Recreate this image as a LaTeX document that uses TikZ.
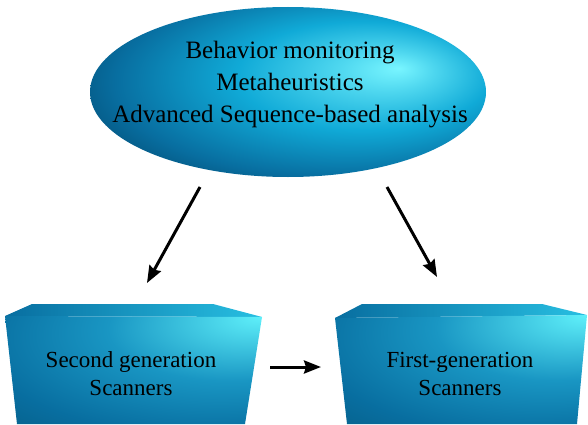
\documentclass[tikz,border=0pt]{standalone}
\usepackage{fontspec}
\setmainfont{Liberation Serif}
\usetikzlibrary{shapes.geometric,arrows.meta}
\definecolor{hilite}{RGB}{120,245,255}
\definecolor{midblue}{RGB}{16,170,215}
\definecolor{deepblue}{RGB}{8,110,160}
\definecolor{darkblue}{RGB}{0,60,95}
\definecolor{boxlight}{RGB}{95,240,250}
\definecolor{boxmid}{RGB}{25,150,195}
\definecolor{boxdark}{RGB}{5,85,120}
\pgfdeclareradialshading{ellball}{\pgfpoint{14bp}{7bp}}{%
  color(0bp)=(hilite); color(6bp)=(hilite!60!midblue); color(16bp)=(midblue);
  color(28bp)=(deepblue); color(38bp)=(darkblue); color(50bp)=(darkblue)}
\pgfdeclareradialshading{boxfront}{\pgfpoint{25bp}{25bp}}{%
  color(0bp)=(boxlight); color(24bp)=(boxmid); color(44bp)=(deepblue);
  color(64bp)=(boxdark); color(100bp)=(boxdark)}
\tikzset{
  x=1pt, y=1pt,
  arr/.style={line width=3pt, -{Stealth[length=17pt,width=13pt,inset=2pt]}},
  frontface/.style={shading=boxfront},
  topface/.style={left color=deepblue, right color=midblue!70!boxlight},
  lbl/.style={font=\fontsize{23}{28}\selectfont, align=center, text=black},
  biglbl/.style={font=\fontsize{25}{32}\selectfont, align=center, text=black},
}
\begin{document}
\begin{tikzpicture}
\useasboundingbox (0,0) rectangle (588,424);
% top ellipse
\node[ellipse, minimum width=396pt, minimum height=170pt, inner sep=0pt, shading=ellball] (top) at (288,332) {};
\node[biglbl] (toptext) at (290,339) {Behavior monitoring\\Metaheuristics\\Advanced Sequence-based analysis};
% left box
\shade[topface] (5,108) -- (32,120) -- (213,120) -- (262,107) -- cycle;
\shade[frontface] (5,108) -- (262,107) -- (245,0) -- (17,0) -- cycle;
\node[lbl] (lbox) at (131,50) {Second generation\\Scanners};
% right box
\shade[topface] (335,106) -- (362,120) -- (542,120) -- (587,109) -- cycle;
\shade[frontface] (335,106) -- (587,109) -- (577,0) -- (347,0) -- cycle;
\node[lbl] (rbox) at (460,50) {First-generation\\Scanners};
% arrows
\coordinate (a1s) at (200,237);
\coordinate (a1e) at (147,141);
\coordinate (a2s) at (387,237);
\coordinate (a2e) at (437,147);
\coordinate (a3s) at (270,57);
\coordinate (a3e) at (321,57);
\draw[arr] (a1s) -- (a1e);
\draw[arr] (a2s) -- (a2e);
\draw[arr] (a3s) -- (a3e);
\end{tikzpicture}
\end{document}
